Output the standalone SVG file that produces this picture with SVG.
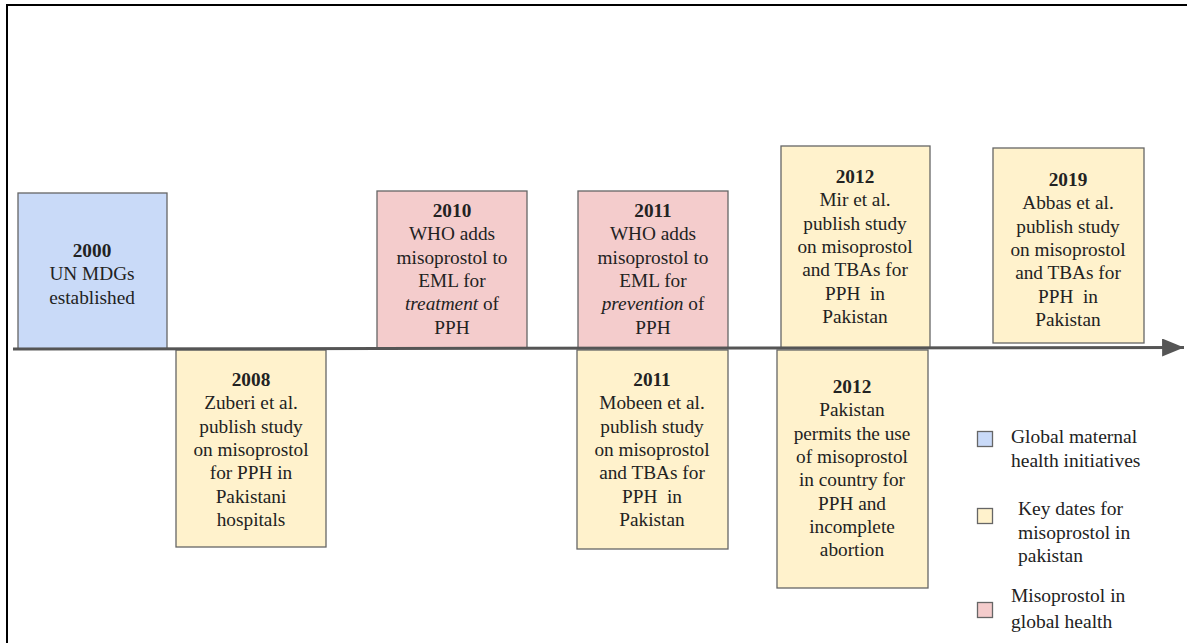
<svg xmlns="http://www.w3.org/2000/svg" width="1187" height="643" viewBox="0 0 1187 643">
<style>
.t{font-family:"Liberation Serif","Times New Roman",serif;font-size:19.3px;fill:#222;text-anchor:middle}
.b{font-weight:bold}
.i{font-style:italic}
.lg{font-family:"Liberation Serif","Times New Roman",serif;font-size:19.5px;fill:#222}
.box{stroke:#666;stroke-width:1.3}
.blue{fill:#c9daf8}
.yel{fill:#fff2cc}
.pink{fill:#f4cccc}
</style>
<defs>
<marker id="arr" markerWidth="8" markerHeight="6" refX="7.3" refY="3" orient="auto" markerUnits="strokeWidth">
<path d="M0,0 L7.3,3 L0,6 Z" fill="#555"/>
</marker>
</defs>
<rect width="1187" height="643" fill="#fff"/>
<path d="M7,643 V5 H1187" fill="none" stroke="#000" stroke-width="2"/>

<g id="n2000">
<rect class="box blue" x="18" y="193" width="149" height="156"/>
<text class="t" x="92" y="257"><tspan class="b">2000</tspan><tspan x="92" dy="23.3">UN MDGs</tspan><tspan x="92" dy="23.3">established</tspan></text>
</g>
<g id="n2008">
<rect class="box yel" x="176" y="350" width="150" height="197"/>
<text class="t" x="251" y="386"><tspan class="b">2008</tspan><tspan x="251" dy="23.3">Zuberi et al.</tspan><tspan x="251" dy="23.3">publish study</tspan><tspan x="251" dy="23.3">on misoprostol</tspan><tspan x="251" dy="23.3">for PPH in</tspan><tspan x="251" dy="23.3">Pakistani</tspan><tspan x="251" dy="23.3">hospitals</tspan></text>
</g>
<g id="n2010">
<rect class="box pink" x="377" y="191" width="150" height="157"/>
<text class="t" x="452" y="217"><tspan class="b">2010</tspan><tspan x="452" dy="23.3">WHO adds</tspan><tspan x="452" dy="23.3">misoprostol to</tspan><tspan x="452" dy="23.3">EML for</tspan><tspan x="452" dy="23.3"><tspan class="i">treatment</tspan> of</tspan><tspan x="452" dy="23.3">PPH</tspan></text>
</g>
<g id="n2011a">
<rect class="box pink" x="578" y="191" width="150" height="157"/>
<text class="t" x="653" y="217"><tspan class="b">2011</tspan><tspan x="653" dy="23.3">WHO adds</tspan><tspan x="653" dy="23.3">misoprostol to</tspan><tspan x="653" dy="23.3">EML for</tspan><tspan x="653" dy="23.3"><tspan class="i">prevention</tspan> of</tspan><tspan x="653" dy="23.3">PPH</tspan></text>
</g>
<g id="n2011b">
<rect class="box yel" x="577" y="350" width="151" height="199"/>
<text class="t" x="652" y="386"><tspan class="b">2011</tspan><tspan x="652" dy="23.3">Mobeen et al.</tspan><tspan x="652" dy="23.3">publish study</tspan><tspan x="652" dy="23.3">on misoprostol</tspan><tspan x="652" dy="23.3">and TBAs for</tspan><tspan x="652" dy="23.3" xml:space="preserve">PPH  in</tspan><tspan x="652" dy="23.3">Pakistan</tspan></text>
</g>
<g id="n2012a">
<rect class="box yel" x="781" y="146" width="149" height="202"/>
<text class="t" x="855" y="183"><tspan class="b">2012</tspan><tspan x="855" dy="23.3">Mir et al.</tspan><tspan x="855" dy="23.3">publish study</tspan><tspan x="855" dy="23.3">on misoprostol</tspan><tspan x="855" dy="23.3">and TBAs for</tspan><tspan x="855" dy="23.3" xml:space="preserve">PPH  in</tspan><tspan x="855" dy="23.3">Pakistan</tspan></text>
</g>
<g id="n2012b">
<rect class="box yel" x="777" y="350" width="151" height="238"/>
<text class="t" x="852" y="393"><tspan class="b">2012</tspan><tspan x="852" dy="23.3">Pakistan</tspan><tspan x="852" dy="23.3">permits the use</tspan><tspan x="852" dy="23.3">of misoprostol</tspan><tspan x="852" dy="23.3">in country for</tspan><tspan x="852" dy="23.3">PPH and</tspan><tspan x="852" dy="23.3">incomplete</tspan><tspan x="852" dy="23.3">abortion</tspan></text>
</g>
<g id="n2019">
<rect class="box yel" x="993" y="148" width="151" height="195"/>
<text class="t" x="1068" y="186"><tspan class="b">2019</tspan><tspan x="1068" dy="23.3">Abbas et al.</tspan><tspan x="1068" dy="23.3">publish study</tspan><tspan x="1068" dy="23.3">on misoprostol</tspan><tspan x="1068" dy="23.3">and TBAs for</tspan><tspan x="1068" dy="23.3" xml:space="preserve">PPH  in</tspan><tspan x="1068" dy="23.3">Pakistan</tspan></text>
</g>

<g id="connectors">
<line x1="13" y1="349" x2="1184" y2="347.5" stroke="#555" stroke-width="3" marker-end="url(#arr)"/>
</g>

<g id="legend">
<rect class="box blue" x="977.5" y="431.5" width="15" height="15"/>
<text class="lg" x="1011" y="443">Global maternal</text>
<text class="lg" x="1011" y="467">health initiatives</text>
<rect class="box yel" x="977.5" y="508.5" width="15" height="15"/>
<text class="lg" x="1018" y="515">Key dates for</text>
<text class="lg" x="1018" y="539">misoprostol in</text>
<text class="lg" x="1018" y="562">pakistan</text>
<rect class="box pink" x="977.5" y="602.5" width="15" height="15"/>
<text class="lg" x="1011" y="602">Misoprostol in</text>
<text class="lg" x="1011" y="628">global health</text>
</g>
</svg>
